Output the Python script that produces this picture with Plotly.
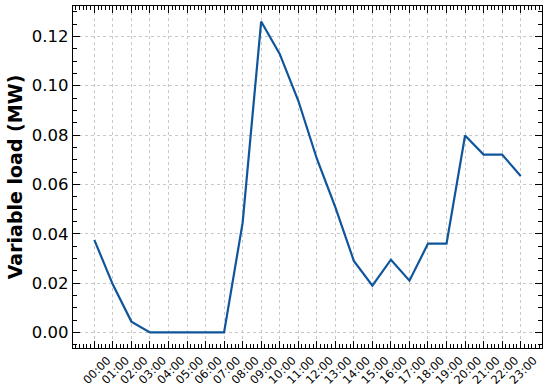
import plotly.graph_objects as go

hours = list(range(24))
hour_labels = [f"{h:02d}:00" for h in hours]
load_mw = [0.0375, 0.0194, 0.0044, 0.0, 0.0, 0.0, 0.0, 0.0,
           0.0444, 0.126, 0.1129, 0.094, 0.0705, 0.0508, 0.029, 0.019,
           0.0295, 0.021, 0.036, 0.036, 0.0798, 0.0721, 0.0721, 0.0634]
y_ticks = [0.0, 0.02, 0.04, 0.06, 0.08, 0.10, 0.12]

fig = go.Figure(go.Scatter(x=hours, y=load_mw, mode="lines",
                           line=dict(color="#0f559c", width=2.2)))

axis_common = dict(showline=True, linecolor="black", linewidth=1.2, mirror="allticks",
                   ticks="inside", ticklen=7, tickwidth=1.2, tickcolor="black",
                   showgrid=True, gridcolor="#c8c8c8", griddash="dot", gridwidth=0.8,
                   zeroline=False)

# labels rotated 45 deg but centred on their tick, like matplotlib
fig.update_xaxes(**axis_common, range=[-1.15, 24.15], tickvals=hours, ticktext=hour_labels,
                 tickangle=-45, tickfont=dict(size=11.5, color="black"), automargin=False,
                 ticklabelshift=13,
                 minor=dict(ticks="inside", dtick=0.2, ticklen=4, tickwidth=1, tickcolor="black", showgrid=False))
fig.update_yaxes(**axis_common, range=[-0.0063, 0.1323], tickvals=y_ticks,
                 ticktext=[f"{v:.2f}" for v in y_ticks],
                 tickfont=dict(size=16.5, color="black"), automargin=False,
                 title=dict(text="<b>Variable load (MW)</b>", font=dict(size=19, color="black"), standoff=4),
                 minor=dict(ticks="inside", dtick=0.005, ticklen=4, tickwidth=1, tickcolor="black", showgrid=False))

fig.update_layout(width=550, height=392, margin=dict(l=73, r=8, t=6, b=44),
                  plot_bgcolor="white", paper_bgcolor="white", showlegend=False,
                  font=dict(family="DejaVu Sans", color="black"))

fig.write_html("out.html", config={"displayModeBar": False},
               post_script="document.body.style.margin='0';")
